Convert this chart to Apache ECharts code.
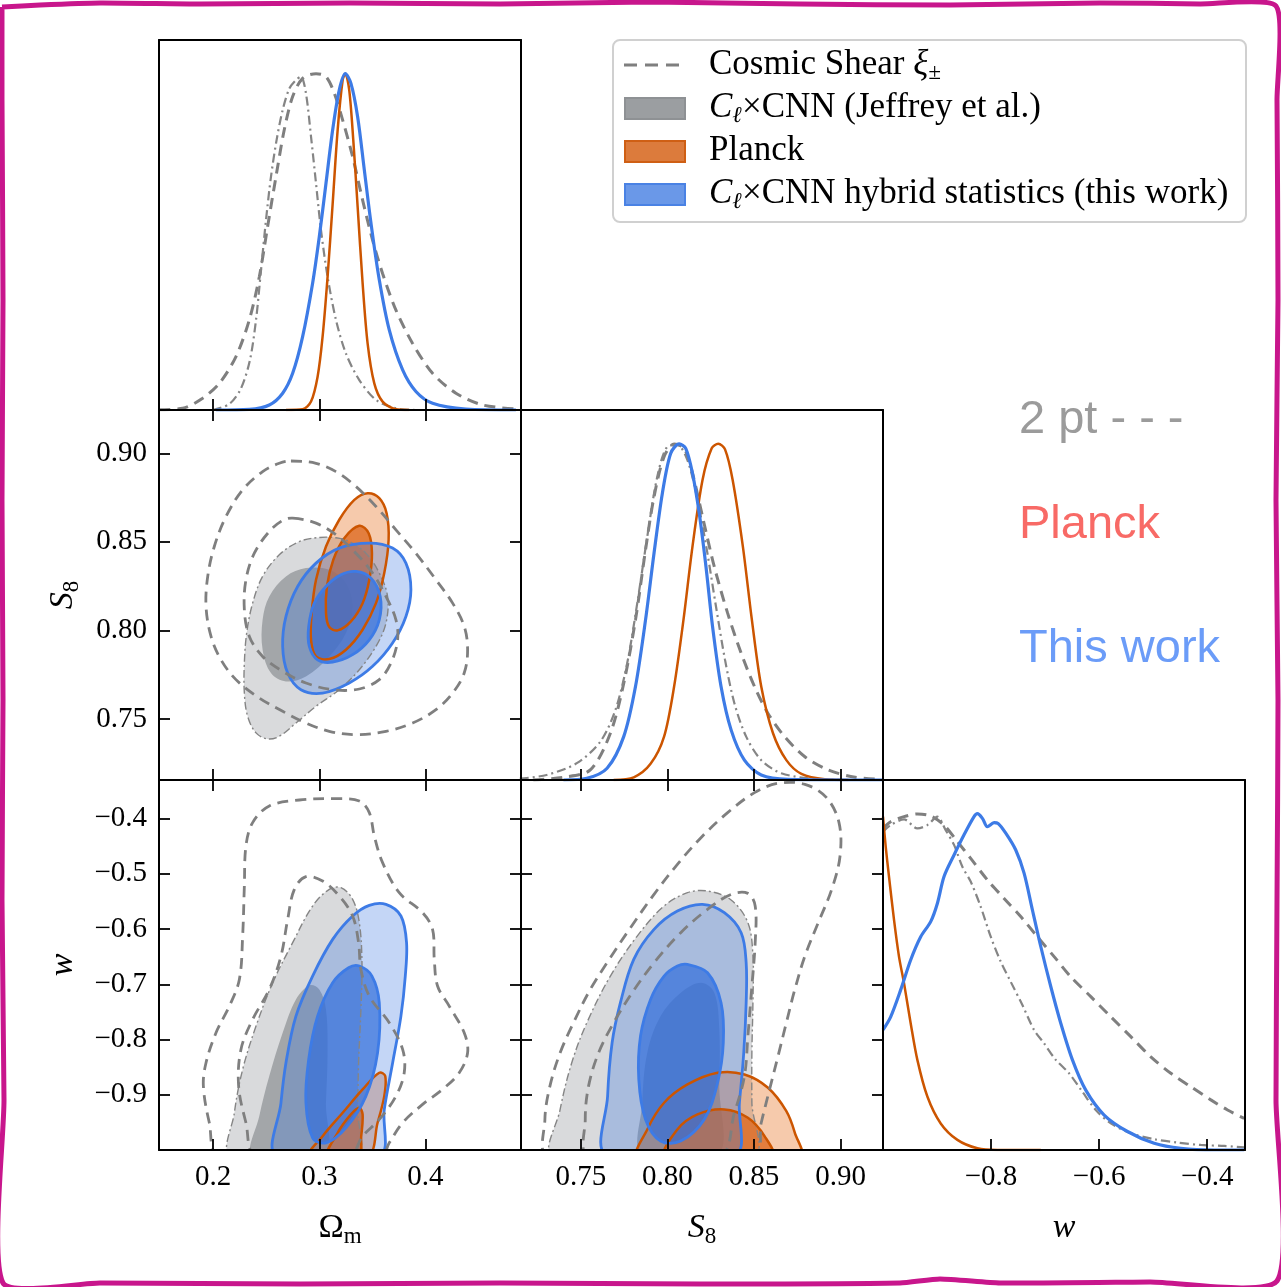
<!DOCTYPE html>
<html>
<head>
<meta charset="utf-8">
<script src="https://cdn.jsdelivr.net/npm/echarts@6/dist/echarts.min.js"></script>
<style>
  html, body { margin: 0; padding: 0; background: #fff; }
  #chart { width: 1281px; height: 1287px; }
</style>
</head>
<body>
<div id="chart"></div>
<script>
// ---------- axis ranges and ticks ----------
const omRange  = [0.149, 0.490];
const s8Range  = [0.7155, 0.9245];
const wRange   = [-1.0, -0.33];
const pdfRange = [0, 1.1];

const omTicks  = [0.2, 0.3, 0.4];
const s8Ticks  = [0.75, 0.80, 0.85, 0.90];
const wTicksY  = [-0.9, -0.8, -0.7, -0.6, -0.5, -0.4];
const wTicksX  = [-0.8, -0.6, -0.4];

// ---------- 2D credible contours: S8 vs Omega_m  [Om, S8] ----------
const shearOmS8Outer = [[0.2733,0.8957],[0.2969,0.8944],[0.3157,0.8897],[0.3345,0.8813],[0.3534,0.8700],[0.3722,0.8568],[0.3910,0.8436],[0.4099,0.8286],[0.4256,0.8154],[0.4365,0.8023],[0.4397,0.7891],[0.4365,0.7759],[0.4256,0.7646],[0.4099,0.7552],[0.3879,0.7477],[0.3628,0.7430],[0.3345,0.7411],[0.3094,0.7430],[0.2874,0.7477],[0.2655,0.7543],[0.2435,0.7618],[0.2215,0.7722],[0.2074,0.7834],[0.1980,0.7966],[0.1933,0.8135],[0.1949,0.8305],[0.2011,0.8474],[0.2121,0.8643],[0.2278,0.8794],[0.2466,0.8897],[0.2623,0.8944]];
const shearOmS8Inner = [[0.2749,0.8634],[0.2969,0.8606],[0.3157,0.8540],[0.3345,0.8436],[0.3502,0.8324],[0.3628,0.8192],[0.3722,0.8060],[0.3738,0.7947],[0.3675,0.7816],[0.3565,0.7722],[0.3377,0.7669],[0.3126,0.7665],[0.2874,0.7703],[0.2655,0.7769],[0.2466,0.7853],[0.2341,0.7966],[0.2294,0.8117],[0.2309,0.8286],[0.2388,0.8436],[0.2529,0.8559],[0.2655,0.8621]];
const jeffOmS8Outer = [[0.3000,0.8525],[0.3157,0.8523],[0.3282,0.8502],[0.3439,0.8436],[0.3565,0.8324],[0.3643,0.8192],[0.3628,0.8041],[0.3534,0.7910],[0.3377,0.7778],[0.3188,0.7665],[0.2969,0.7571],[0.2780,0.7477],[0.2623,0.7402],[0.2513,0.7387],[0.2404,0.7421],[0.2325,0.7515],[0.2294,0.7646],[0.2294,0.7816],[0.2316,0.7985],[0.2372,0.8154],[0.2466,0.8305],[0.2623,0.8427],[0.2812,0.8502]];
const jeffOmS8Inner = [[0.2874,0.8352],[0.3094,0.8342],[0.3251,0.8267],[0.3314,0.8135],[0.3251,0.7985],[0.3094,0.7853],[0.2874,0.7740],[0.2686,0.7712],[0.2545,0.7759],[0.2466,0.7891],[0.2466,0.8060],[0.2529,0.8192],[0.2686,0.8305]];
const planckOmS8Outer = [[0.3455,0.8775],[0.3565,0.8747],[0.3634,0.8662],[0.3653,0.8512],[0.3612,0.8324],[0.3534,0.8154],[0.3408,0.8004],[0.3251,0.7891],[0.3094,0.7838],[0.2969,0.7853],[0.2922,0.7947],[0.2928,0.8098],[0.2969,0.8286],[0.3063,0.8474],[0.3188,0.8625],[0.3330,0.8737]];
const planckOmS8Inner = [[0.3377,0.8591],[0.3465,0.8549],[0.3496,0.8436],[0.3471,0.8286],[0.3408,0.8154],[0.3298,0.8051],[0.3173,0.8000],[0.3094,0.8019],[0.3063,0.8098],[0.3072,0.8248],[0.3132,0.8399],[0.3235,0.8521]];
const hybridOmS8Outer = [[0.3471,0.8493],[0.3690,0.8465],[0.3816,0.8380],[0.3863,0.8230],[0.3816,0.8079],[0.3690,0.7929],[0.3502,0.7797],[0.3282,0.7703],[0.3031,0.7646],[0.2827,0.7665],[0.2702,0.7759],[0.2655,0.7910],[0.2686,0.8079],[0.2796,0.8248],[0.2969,0.8380],[0.3188,0.8465]];
const hybridOmS8Inner = [[0.3345,0.8333],[0.3487,0.8295],[0.3574,0.8192],[0.3565,0.8060],[0.3471,0.7947],[0.3314,0.7863],[0.3126,0.7821],[0.2984,0.7834],[0.2906,0.7910],[0.2900,0.8023],[0.2953,0.8154],[0.3063,0.8248],[0.3204,0.8314]];

// ---------- 2D credible contours: w vs Omega_m  [Om, w] ----------
const shearOmWOuter = [[0.2058,-1.011],[0.1964,-0.9507],[0.1908,-0.8843],[0.1933,-0.842],[0.2027,-0.7877],[0.2153,-0.7394],[0.2247,-0.6911],[0.2278,-0.6126],[0.2294,-0.522],[0.2309,-0.4495],[0.2372,-0.4072],[0.2529,-0.3771],[0.2812,-0.3662],[0.3157,-0.3638],[0.3377,-0.368],[0.3471,-0.3891],[0.3518,-0.4314],[0.3596,-0.4797],[0.3753,-0.5341],[0.3973,-0.5703],[0.4067,-0.6005],[0.4083,-0.6548],[0.4114,-0.7031],[0.4224,-0.7394],[0.4365,-0.7877],[0.4397,-0.8239],[0.4318,-0.8601],[0.4161,-0.8903],[0.3973,-0.9175],[0.3785,-0.9507],[0.3659,-0.987],[0.3565,-1.017]];
const shearOmWInner = [[0.2404,-1.011],[0.2309,-0.9507],[0.2240,-0.8843],[0.2262,-0.8179],[0.2372,-0.7635],[0.2529,-0.7092],[0.2639,-0.6488],[0.2702,-0.5824],[0.2765,-0.528],[0.2874,-0.5051],[0.3031,-0.5129],[0.3188,-0.5401],[0.3314,-0.5763],[0.3370,-0.6246],[0.3392,-0.6729],[0.3471,-0.7213],[0.3659,-0.7696],[0.3785,-0.8179],[0.3800,-0.8601],[0.3722,-0.9024],[0.3565,-0.9447],[0.3408,-0.9749],[0.3282,-1.011]];
const jeffOmWOuter = [[0.2168,-1.011],[0.2200,-0.9326],[0.2278,-0.8541],[0.2404,-0.7756],[0.2561,-0.6971],[0.2749,-0.6246],[0.2937,-0.5582],[0.3094,-0.528],[0.3204,-0.525],[0.3314,-0.5461],[0.3377,-0.5884],[0.3402,-0.6609],[0.3392,-0.7454],[0.3370,-0.842],[0.3361,-0.9266],[0.3345,-1.011]];
const jeffOmWInner = [[0.2372,-1.011],[0.2435,-0.9386],[0.2529,-0.8662],[0.2655,-0.7877],[0.2780,-0.7273],[0.2906,-0.7019],[0.3000,-0.7092],[0.3063,-0.7454],[0.3078,-0.8239],[0.3063,-0.9145],[0.3047,-1.011]];
const planckOmWOuter = [[0.2906,-1.011],[0.3031,-0.9749],[0.3220,-0.9326],[0.3408,-0.8903],[0.3565,-0.8601],[0.3621,-0.8662],[0.3612,-0.9024],[0.3549,-0.9507],[0.3455,-1.011]];
const planckOmWInner = [[0.3078,-1.011],[0.3173,-0.9688],[0.3298,-0.9356],[0.3377,-0.9236],[0.3408,-0.9356],[0.3395,-0.9749],[0.3370,-1.011]];
const hybridOmWOuter = [[0.2598,-1.011],[0.2639,-0.9145],[0.2686,-0.842],[0.2780,-0.7575],[0.2937,-0.685],[0.3126,-0.6186],[0.3314,-0.5763],[0.3471,-0.557],[0.3628,-0.5552],[0.3769,-0.5763],[0.3822,-0.6246],[0.3810,-0.685],[0.3769,-0.7575],[0.3691,-0.842],[0.3612,-0.9266],[0.3565,-1.011]];
const hybridOmWInner = [[0.3377,-0.6669],[0.3496,-0.685],[0.3565,-0.7333],[0.3549,-0.8239],[0.3439,-0.9024],[0.3251,-0.9598],[0.3063,-0.987],[0.2937,-0.9779],[0.2874,-0.9145],[0.2900,-0.836],[0.2984,-0.7575],[0.3126,-0.6971],[0.3276,-0.6699]];

// ---------- 2D credible contours: w vs S8  [S8, w] ----------
const shearS8WOuter = [[0.7313,-1.011],[0.7293,-0.9447],[0.7322,-0.8843],[0.7381,-0.8239],[0.7458,-0.7696],[0.7555,-0.7092],[0.7671,-0.6518],[0.7787,-0.5975],[0.7923,-0.5371],[0.8058,-0.4827],[0.8194,-0.4344],[0.8348,-0.3891],[0.8503,-0.3529],[0.8639,-0.3360],[0.8794,-0.3378],[0.8919,-0.3620],[0.8991,-0.4072],[0.8997,-0.4676],[0.8949,-0.528],[0.8871,-0.5884],[0.8794,-0.6488],[0.8736,-0.7092],[0.8687,-0.7696],[0.8639,-0.830],[0.8590,-0.8903],[0.8542,-0.9507],[0.8499,-1.011]];
const shearS8WInner = [[0.7545,-1.011],[0.7526,-0.9447],[0.7545,-0.8843],[0.7603,-0.8239],[0.7690,-0.7696],[0.7797,-0.7152],[0.7923,-0.6609],[0.8077,-0.6065],[0.8232,-0.5643],[0.8368,-0.5371],[0.8465,-0.5353],[0.8507,-0.5582],[0.8507,-0.6246],[0.8488,-0.7031],[0.8465,-0.7937],[0.8445,-0.8662],[0.8387,-0.9326],[0.8300,-1.011]];
const jeffS8WOuter = [[0.7342,-1.011],[0.7381,-0.9266],[0.7448,-0.842],[0.7535,-0.7696],[0.7671,-0.685],[0.7826,-0.6126],[0.7981,-0.5582],[0.8116,-0.5341],[0.8232,-0.531],[0.8368,-0.5473],[0.8465,-0.5884],[0.8494,-0.6488],[0.8494,-0.7333],[0.8488,-0.8239],[0.8488,-0.9145],[0.8494,-1.011]];
const jeffS8WInner = [[0.7855,-1.011],[0.7855,-0.9145],[0.7884,-0.8239],[0.7961,-0.7575],[0.8077,-0.7152],[0.8194,-0.6971],[0.8271,-0.7152],[0.8300,-0.7816],[0.8300,-0.8843],[0.8290,-1.011]];
const planckS8WOuter = [[0.7835,-1.011],[0.7884,-0.9628],[0.7981,-0.9145],[0.8116,-0.8813],[0.8290,-0.8601],[0.8445,-0.8632],[0.8581,-0.8873],[0.8687,-0.9296],[0.8736,-0.9688],[0.8765,-1.011]];
const planckS8WInner = [[0.7990,-1.011],[0.8058,-0.9628],[0.8174,-0.9356],[0.8329,-0.9266],[0.8465,-0.9417],[0.8561,-0.9749],[0.8604,-1.011]];
const hybridS8WOuter = [[0.7652,-1.011],[0.7655,-0.9024],[0.7681,-0.8058],[0.7729,-0.7333],[0.7806,-0.6548],[0.7923,-0.6005],[0.8058,-0.5673],[0.8203,-0.5552],[0.8329,-0.5703],[0.8426,-0.6065],[0.8455,-0.6609],[0.8455,-0.7333],[0.8441,-0.8239],[0.8416,-0.9145],[0.8387,-1.011]];
const hybridS8WInner = [[0.8116,-0.6639],[0.8232,-0.679],[0.8310,-0.7333],[0.8323,-0.8058],[0.8290,-0.8783],[0.8213,-0.9447],[0.8077,-0.9839],[0.7961,-0.9839],[0.7874,-0.9447],[0.7835,-0.8722],[0.7845,-0.7937],[0.7903,-0.7273],[0.7981,-0.685],[0.8058,-0.6669]];

// ---------- 1D marginal posteriors (peak-normalised) ----------
const omShear1d  = [[0.1493,0.001],[0.1713,0.005],[0.1901,0.035],[0.2058,0.079],[0.2215,0.159],[0.2341,0.268],[0.2435,0.396],[0.2513,0.545],[0.2592,0.694],[0.2670,0.833],[0.2749,0.932],[0.2843,0.986],[0.2969,1.0],[0.3063,0.991],[0.3141,0.942],[0.3220,0.862],[0.3314,0.753],[0.3408,0.624],[0.3502,0.505],[0.3596,0.406],[0.3722,0.297],[0.3879,0.198],[0.4067,0.109],[0.4287,0.05],[0.4538,0.015],[0.4852,0.003]];
const omJeff1d   = [[0.1996,0],[0.2153,0.018],[0.2262,0.064],[0.2347,0.149],[0.2404,0.268],[0.2451,0.416],[0.2498,0.565],[0.2545,0.694],[0.2598,0.803],[0.2655,0.892],[0.2718,0.956],[0.2780,0.981],[0.2827,0.991],[0.2874,0.942],[0.2922,0.813],[0.2969,0.674],[0.3016,0.535],[0.3078,0.396],[0.3157,0.268],[0.3251,0.168],[0.3377,0.089],[0.3534,0.03],[0.3722,0.005],[0.3910,0]];
const omPlanck1d = [[0.2686,0],[0.2843,0.002],[0.2922,0.025],[0.2984,0.099],[0.3031,0.218],[0.3078,0.396],[0.3126,0.614],[0.3173,0.833],[0.3220,0.981],[0.3245,1.0],[0.3282,0.951],[0.3320,0.803],[0.3361,0.605],[0.3408,0.377],[0.3455,0.198],[0.3518,0.079],[0.3596,0.025],[0.3722,0.002],[0.3847,0]];
const omHybrid1d = [[0.2027,0],[0.2341,0.002],[0.2529,0.015],[0.2655,0.05],[0.2749,0.109],[0.2843,0.218],[0.2937,0.377],[0.3000,0.515],[0.3063,0.674],[0.3126,0.833],[0.3188,0.951],[0.3245,1.0],[0.3298,0.971],[0.3361,0.872],[0.3424,0.714],[0.3487,0.555],[0.3565,0.387],[0.3659,0.238],[0.3785,0.119],[0.3910,0.055],[0.4067,0.02],[0.4381,0.003],[0.4852,0]];

const s8Shear1d  = [[0.7226,0],[0.7400,0.008],[0.7555,0.03],[0.7671,0.139],[0.7748,0.287],[0.7816,0.476],[0.7874,0.684],[0.7923,0.842],[0.7981,0.961],[0.8039,0.999],[0.8097,0.986],[0.8145,0.912],[0.8203,0.783],[0.8271,0.634],[0.8348,0.496],[0.8426,0.377],[0.8503,0.278],[0.8581,0.198],[0.8677,0.129],[0.8794,0.069],[0.8929,0.03],[0.9084,0.008],[0.9239,0.002]];
const s8Jeff1d   = [[0.7148,0.004],[0.7303,0.015],[0.7477,0.05],[0.7613,0.114],[0.7700,0.208],[0.7768,0.347],[0.7826,0.525],[0.7884,0.723],[0.7942,0.902],[0.8000,0.991],[0.8058,0.996],[0.8116,0.951],[0.8174,0.833],[0.8228,0.684],[0.8281,0.515],[0.8333,0.357],[0.8387,0.228],[0.8455,0.129],[0.8542,0.059],[0.8658,0.02],[0.8852,0.003],[0.9045,0]];
const s8Planck1d = [[0.7690,0],[0.7806,0.008],[0.7903,0.048],[0.7981,0.129],[0.8039,0.278],[0.8093,0.476],[0.8145,0.694],[0.8203,0.892],[0.8256,0.986],[0.8294,1.0],[0.8333,0.983],[0.8377,0.892],[0.8436,0.694],[0.8488,0.476],[0.8542,0.278],[0.8610,0.139],[0.8687,0.059],[0.8774,0.018],[0.8909,0.002],[0.9045,0]];
const s8Hybrid1d = [[0.7400,0],[0.7535,0.005],[0.7652,0.035],[0.7748,0.129],[0.7816,0.278],[0.7874,0.476],[0.7923,0.674],[0.7971,0.852],[0.8019,0.971],[0.8068,0.999],[0.8106,0.986],[0.8145,0.912],[0.8184,0.793],[0.8223,0.634],[0.8261,0.456],[0.8310,0.278],[0.8368,0.149],[0.8445,0.059],[0.8542,0.015],[0.8697,0.002],[0.9239,0]];

const wShear1d  = [[-1.0,0.956],[-0.9858,0.976],[-0.9611,0.991],[-0.9364,0.999],[-0.9117,0.993],[-0.887,0.966],[-0.8623,0.917],[-0.8377,0.867],[-0.8068,0.803],[-0.7759,0.748],[-0.7451,0.694],[-0.7142,0.634],[-0.6833,0.575],[-0.6525,0.515],[-0.6154,0.456],[-0.5784,0.396],[-0.5414,0.337],[-0.5043,0.277],[-0.4673,0.228],[-0.4302,0.188],[-0.3932,0.149],[-0.3623,0.119],[-0.3315,0.094]];
const wJeff1d   = [[-1.0,0.946],[-0.9858,0.966],[-0.9611,0.983],[-0.9364,0.956],[-0.9179,0.966],[-0.8994,0.991],[-0.884,0.951],[-0.8685,0.907],[-0.8531,0.842],[-0.8377,0.798],[-0.8191,0.723],[-0.8006,0.634],[-0.7821,0.56],[-0.7636,0.5],[-0.742,0.431],[-0.7204,0.357],[-0.7019,0.317],[-0.6802,0.268],[-0.6556,0.228],[-0.6309,0.173],[-0.6062,0.119],[-0.5784,0.079],[-0.5414,0.05],[-0.4981,0.032],[-0.4549,0.022],[-0.4117,0.015],[-0.3685,0.012],[-0.3315,0.008]];
const wPlanck1d = [[-1.0,0.991],[-0.995,0.902],[-0.9889,0.813],[-0.9796,0.684],[-0.9704,0.575],[-0.9611,0.496],[-0.9488,0.377],[-0.9364,0.268],[-0.9179,0.159],[-0.8932,0.079],[-0.8623,0.03],[-0.8253,0.005],[-0.7883,0],[-0.708,0]];
const wHybrid1d = [[-1.0,0.357],[-0.9858,0.396],[-0.9673,0.476],[-0.9488,0.565],[-0.9302,0.634],[-0.9117,0.679],[-0.8994,0.733],[-0.887,0.813],[-0.8685,0.877],[-0.85,0.937],[-0.8315,0.991],[-0.8253,1.0],[-0.816,0.986],[-0.8068,0.961],[-0.7944,0.973],[-0.787,0.971],[-0.7728,0.942],[-0.7543,0.892],[-0.7389,0.823],[-0.7235,0.714],[-0.708,0.605],[-0.6895,0.486],[-0.671,0.377],[-0.6494,0.268],[-0.6247,0.178],[-0.5907,0.104],[-0.5475,0.055],[-0.4981,0.02],[-0.4488,0.005],[-0.387,0],[-0.3315,0]];

// ---------- styling ----------
const SERIF = 'Liberation Serif';
const SANS = 'Liberation Sans';
const C = {
  shear: '#7f7f7f',
  jeffLine: '#858585',
  jeffOuter: '#d9dadc',
  jeffInner: '#a3a6a9',
  planckLine: '#cc5500',
  planckOuter: 'rgba(230,110,30,0.37)',
  planckInner: 'rgba(220,100,25,0.75)',
  hybridLine: '#3d7be6',
  hybridOuter: 'rgba(60,120,225,0.30)',
  hybridInner: 'rgba(50,110,220,0.70)'
};

const axisDefs = {
  om:  { range: omRange,  xt: omTicks, yt: omTicks, fmt: v => v.toFixed(1), name: '{n|Ω}{s|m}' },
  s8:  { range: s8Range,  xt: s8Ticks, yt: s8Ticks, fmt: v => v.toFixed(2), name: '{i|S}{s|8}' },
  w:   { range: wRange,   xt: wTicksX, yt: wTicksY, fmt: v => '\u2212' + Math.abs(v).toFixed(1), name: '{i|w}' },
  pdf: { range: pdfRange, xt: [], yt: [], fmt: null, name: '' }
};

const nameRich = {
  n: { fontFamily: SERIF, fontSize: 34, lineHeight: 40, color: '#000' },
  i: { fontFamily: SERIF, fontSize: 34, lineHeight: 40, fontStyle: 'italic', color: '#000' },
  s: { fontFamily: SERIF, fontSize: 23, lineHeight: 14, verticalAlign: 'bottom', color: '#000' }
};

// ---------- panel layout (corner plot) ----------
const COLS = [159, 521, 883], ROWS = [40, 410, 780], PW = 362, PH = 370;
// flags: tb = bottom ticks, tt = top ticks, tl = left ticks, tr = right ticks, lx = x labels, ly = y labels
const panels = [
  { c: 0, r: 0, x: 'om', y: 'pdf', tb: 1, tt: 0, tl: 0, tr: 0, lx: 0, ly: 0 },
  { c: 0, r: 1, x: 'om', y: 's8',  tb: 1, tt: 1, tl: 1, tr: 1, lx: 0, ly: 1 },
  { c: 1, r: 1, x: 's8', y: 'pdf', tb: 1, tt: 0, tl: 0, tr: 0, lx: 0, ly: 0 },
  { c: 0, r: 2, x: 'om', y: 'w',   tb: 1, tt: 1, tl: 1, tr: 1, lx: 1, ly: 1 },
  { c: 1, r: 2, x: 's8', y: 'w',   tb: 1, tt: 1, tl: 1, tr: 1, lx: 1, ly: 0 },
  { c: 2, r: 2, x: 'w',  y: 'pdf', tb: 1, tt: 0, tl: 0, tr: 0, lx: 1, ly: 0 }
];

const grids = [], xAxes = [], yAxes = [], series = [];

function makeAxis(gi, def, ticks, pos, showTicks, showLabels, isX) {
  return {
    type: 'value', gridIndex: gi, position: pos, z: 10,
    min: def.range[0], max: def.range[1],
    axisLine: { show: true, onZero: false, lineStyle: { color: '#000', width: 2 } },
    axisTick: { show: !!showTicks, inside: true, length: 11, customValues: ticks,
                lineStyle: { color: '#000', width: 1.8 } },
    axisLabel: { show: !!showLabels, customValues: ticks, formatter: def.fmt,
                 margin: isX ? 13 : 12, color: '#000', fontFamily: SERIF, fontSize: 29 },
    splitLine: { show: false },
    name: showLabels ? def.name : '',
    nameLocation: 'middle',
    nameGap: isX ? 58 : 76,
    nameTextStyle: { fontFamily: SERIF, fontSize: 34, color: '#000', rich: nameRich }
  };
}

const axisIdx = []; // per panel: {xb, yl}
panels.forEach((p, gi) => {
  grids.push({ left: COLS[p.c], top: ROWS[p.r], width: PW, height: PH,
               containLabel: false, outerBoundsMode: 'none', show: false });
  const dx = axisDefs[p.x], dy = axisDefs[p.y];
  const xb = xAxes.length;
  xAxes.push(makeAxis(gi, dx, dx.xt, 'bottom', p.tb, p.lx, true));
  xAxes.push(makeAxis(gi, dx, dx.xt, 'top', p.tt, false, true));
  const yl = yAxes.length;
  yAxes.push(makeAxis(gi, dy, dy.yt, 'left', p.tl, p.ly, false));
  yAxes.push(makeAxis(gi, dy, dy.yt, 'right', p.tr, false, false));
  axisIdx.push({ xb, yl });
});

// closed contour drawn as a smoothed polygon through the panel's own scales
function contour(panel, pts, style) {
  const a = axisIdx[panel];
  return {
    type: 'custom', xAxisIndex: a.xb, yAxisIndex: a.yl, clip: true, silent: true,
    data: [0],
    renderItem: (params, api) => ({
      type: 'polygon',
      shape: { points: pts.map(p => api.coord(p)), smooth: 0.35 },
      style: Object.assign({ fill: 'none', stroke: 'none' }, style)
    })
  };
}

function curve(panel, pts, color, width, dash) {
  const a = axisIdx[panel];
  return {
    type: 'line', xAxisIndex: a.xb, yAxisIndex: a.yl, data: pts,
    smooth: 0.3, showSymbol: false, silent: true, clip: true,
    lineStyle: { color, width, type: dash || 'solid' }
  };
}

// fills first, outlines afterwards so every boundary stays visible
const jeffOFill   = { fill: C.jeffOuter };
const jeffIFill   = { fill: C.jeffInner };
const planckOFill = { fill: C.planckOuter };
const planckIFill = { fill: C.planckInner };
const hybridOFill = { fill: C.hybridOuter };
const hybridIFill = { fill: C.hybridInner };
const jeffLine    = { fill: null, stroke: C.jeffLine, lineWidth: 1.4, lineDash: [8, 3, 2, 3] };
const planckLine  = { fill: null, stroke: C.planckLine, lineWidth: 2.5 };
const hybridLine  = { fill: null, stroke: C.hybridLine, lineWidth: 2.8 };
const shearLine   = { fill: null, stroke: C.shear, lineWidth: 2.8, lineDash: [11, 7] };

// 2D panels
[
  [1, jeffOmS8Outer, jeffOmS8Inner, planckOmS8Outer, planckOmS8Inner, hybridOmS8Outer, hybridOmS8Inner, shearOmS8Outer, shearOmS8Inner],
  [3, jeffOmWOuter, jeffOmWInner, planckOmWOuter, planckOmWInner, hybridOmWOuter, hybridOmWInner, shearOmWOuter, shearOmWInner],
  [4, jeffS8WOuter, jeffS8WInner, planckS8WOuter, planckS8WInner, hybridS8WOuter, hybridS8WInner, shearS8WOuter, shearS8WInner]
].forEach(([pi, jo, ji, po, pin, ho, hi, so, si]) => {
  series.push(contour(pi, jo, jeffOFill));
  series.push(contour(pi, ji, jeffIFill));
  series.push(contour(pi, po, planckOFill));
  series.push(contour(pi, pin, planckIFill));
  series.push(contour(pi, ho, hybridOFill));
  series.push(contour(pi, hi, hybridIFill));
  series.push(contour(pi, jo, jeffLine));
  series.push(contour(pi, po, planckLine));
  series.push(contour(pi, pin, planckLine));
  series.push(contour(pi, ho, hybridLine));
  series.push(contour(pi, hi, hybridLine));
  series.push(contour(pi, so, shearLine));
  series.push(contour(pi, si, shearLine));
});

// 1D panels
[
  [0, omShear1d, omJeff1d, omPlanck1d, omHybrid1d],
  [2, s8Shear1d, s8Jeff1d, s8Planck1d, s8Hybrid1d],
  [5, wShear1d, wJeff1d, wPlanck1d, wHybrid1d]
].forEach(([pi, sh, je, pl, hy]) => {
  series.push(curve(pi, sh, C.shear, 3, [11, 7]));
  series.push(curve(pi, je, C.jeffLine, 2.2, [9, 4, 2, 4]));
  series.push(curve(pi, pl, C.planckLine, 2.5));
  series.push(curve(pi, hy, C.hybridLine, 3.2));
});

// ---------- legend and annotations ----------
const legendRich = {
  i: { fontFamily: SERIF, fontSize: 35, fontStyle: 'italic', color: '#000', lineHeight: 38 },
  s: { fontFamily: SERIF, fontSize: 23, fontStyle: 'italic', color: '#000', lineHeight: 12, verticalAlign: 'bottom' },
  t: { fontFamily: SERIF, fontSize: 35, color: '#000', lineHeight: 38 }
};
const legendItems = [
  { y: 65,  text: '{t|Cosmic Shear }{i|ξ}{s|±}' },
  { y: 108, text: '{i|C}{s|ℓ}{t|×CNN (Jeffrey et al.)}' },
  { y: 151, text: '{t|Planck}' },
  { y: 194, text: '{i|C}{s|ℓ}{t|×CNN hybrid statistics (this work)}' }
];

const border = [[2,7],[40,5],[100,3],[200,4],[350,3],[500,4],[650,2],[800,4],[950,5],[1100,3],[1200,4],[1276,6],
  [1277,100],[1278,300],[1276,500],[1278,700],[1277,900],[1276,1100],[1277,1281],
  [1150,1282],[1000,1283],[940,1279],[900,1283],[700,1284],[500,1283],[300,1284],[100,1283],[3,1283],
  [4,1100],[2,900],[3,700],[2,500],[3,300],[2,100],[2,7]];

const graphic = [
  { type: 'rect', z: 50, shape: { x: 613, y: 40, width: 633, height: 182, r: 7 },
    style: { fill: 'rgba(255,255,255,0.85)', stroke: '#d0d0d0', lineWidth: 2 } },
  { type: 'line', z: 51, shape: { x1: 624, y1: 65, x2: 686, y2: 65 },
    style: { stroke: C.shear, lineWidth: 3, lineDash: [13, 8] } },
  { type: 'rect', z: 51, shape: { x: 625, y: 98, width: 60, height: 21 },
    style: { fill: '#9b9ea1', stroke: '#8e9194', lineWidth: 2 } },
  { type: 'rect', z: 51, shape: { x: 625, y: 141, width: 60, height: 21 },
    style: { fill: '#dc7b3c', stroke: '#cf5f14', lineWidth: 2 } },
  { type: 'rect', z: 51, shape: { x: 625, y: 184, width: 60, height: 21 },
    style: { fill: '#6a98e8', stroke: '#4a82e4', lineWidth: 2 } },
  ...legendItems.map(it => ({
    type: 'text', z: 51, x: 709, y: it.y,
    style: { text: it.text, rich: legendRich, verticalAlign: 'middle', align: 'left',
             fontFamily: SERIF, fontSize: 35, fill: '#000' }
  })),
  { type: 'text', x: 1019, y: 420,
    style: { text: '2 pt - - -', fontFamily: SANS, fontSize: 47, fill: '#9b9b9b', verticalAlign: 'middle' } },
  { type: 'text', x: 1019, y: 525,
    style: { text: 'Planck', fontFamily: SANS, fontSize: 47, fill: '#f86a66', verticalAlign: 'middle' } },
  { type: 'text', x: 1019, y: 649,
    style: { text: 'This work', fontFamily: SANS, fontSize: 47, fill: '#6b9cf8', verticalAlign: 'middle' } },
  { type: 'polyline', z: 60, shape: { points: border, smooth: 0.2 },
    style: { stroke: '#c8168c', lineWidth: 5, fill: null } }
];

const chart = echarts.init(document.getElementById('chart'), null, { renderer: 'canvas' });
chart.setOption({
  animation: false,
  backgroundColor: '#fff',
  grid: grids,
  xAxis: xAxes,
  yAxis: yAxes,
  series: series,
  graphic: graphic
});
</script>
</body>
</html>
